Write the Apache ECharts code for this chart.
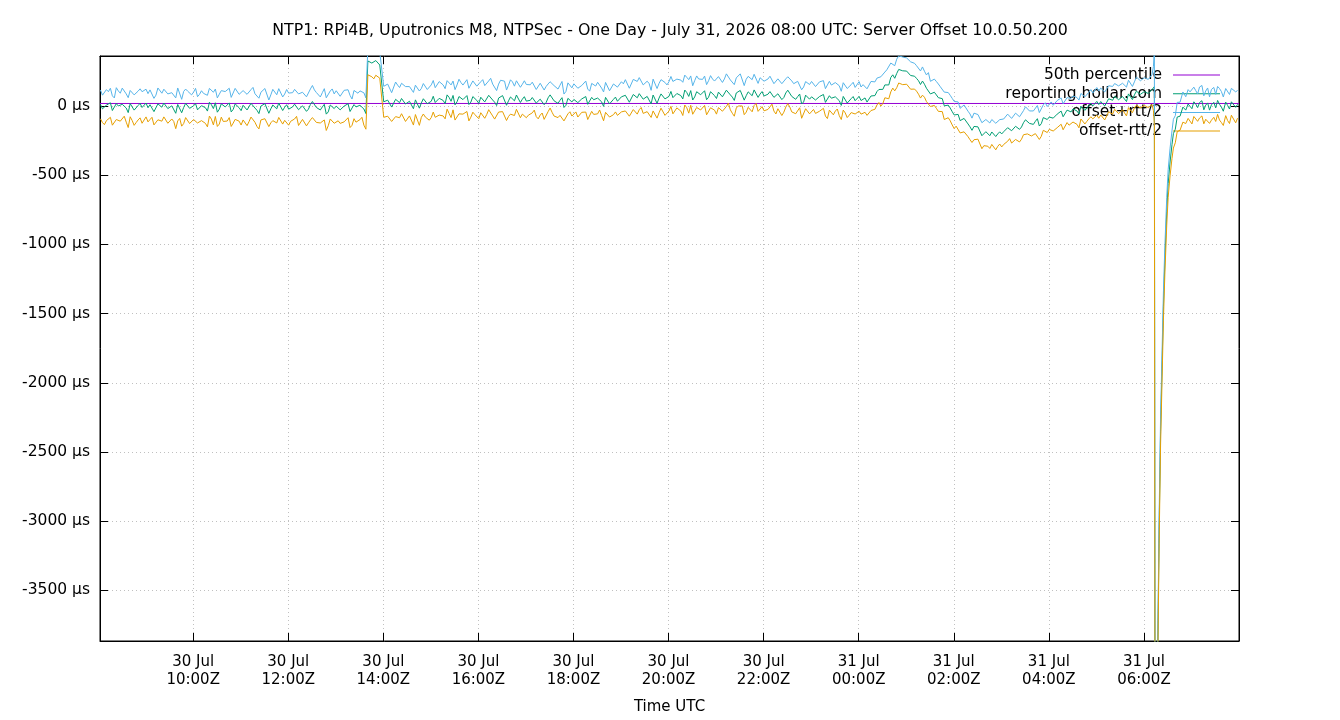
<!DOCTYPE html>
<html>
<head>
<meta charset="utf-8">
<title>NTP1 Server Offset</title>
<script src="https://cdn.jsdelivr.net/npm/echarts@6.0.0/dist/echarts.min.js"></script>
<style>
  html, body { margin: 0; padding: 0; background: #fff; }
  #chart { width: 1340px; height: 720px; }
</style>
</head>
<body>
<div id="chart"></div>
<script>
// hours counted from 30 Jul 00:00 UTC, so 24 = 31 Jul 00:00
const startHour = 8.05; // 08:03Z, first sample
const stepHours = 5 / 60; // one sample every 5 min, plus one in between
const xMin = 8.04;
const xMax = 32;
const yMin = -3866;
const yMax = 361;
const xTicks = [10, 12, 14, 16, 18, 20, 22, 24, 26, 28, 30];
const yTicks = [-3500, -3000, -2500, -2000, -1500, -1000, -500, 0];
const percentile50 = 18; // µs

// offset in µs at 08:03Z, 08:08Z ... 06:08Z
const offsetDay = [
  11, -25, 5, -33, 17, -9, 22, -48, 7, -21, 19, -15, // 08
  -13, 15, -31, 3, 21, -19, 1, -53, 13, -11, 9, -27, // 09
  17, -17, -5, -37, 9, 23, -23, 5, -9, -43, 15, -13, // 10
  5, -29, 19, -15, -55, 7, 15, -21, -1, 21, -33, 9, // 11
  -11, 13, -27, 1, -39, 11, 19, -13, -7, -59, 7, -19, // 12
  4, -32, -2, -40, 10, -16, 15, -55, 322, 300, 316, 292, // 13
  20, 48, 2, 36, 54, 14, 34, -20, 46, 22, 42, 6, // 14
  70, 36, 48, 16, 62, 76, 30, 58, 44, 10, 68, 40, // 15
  63, 29, 77, 43, 3, 65, 73, 37, 57, 79, 25, 67, // 16
  37, 61, 21, 49, 9, 59, 67, 35, 41, -11, 55, 29, // 17
  56, 20, 50, 12, 62, 36, 67, -3, 52, 24, 64, 30, // 18
  55, 83, 37, 71, 89, 49, 69, 15, 81, 57, 77, 41, // 19
  105, 71, 83, 51, 97, 111, 65, 93, 79, 45, 103, 75, // 20
  100, 66, 114, 80, 40, 102, 110, 74, 94, 116, 62, 104, // 21
  82, 104, 62, 88, 46, 94, 100, 65, 68, 14, 78, 49, // 22
  76, 38, 66, 26, 74, 46, 75, 4, 58, 29, 68, 33, // 23
  39, 58, 38, 72, 104, 105, 152, 152, 225, 235, 269, 241, // 00
  257, 217, 199, 155, 157, 141, 88, 80, 46, 1, 6, -41, // 01
  -52, -106, -90, -130, -176, -151, -159, -201, -197, -188, -221, -187, // 02
  -186, -157, -179, -147, -169, -121, -106, -124, -111, -145, -84, -98, // 03
  -67, -88, -56, -78, -30, -43, -10, -58, -6, -20, 20, 0, // 04
  10, 40, 12, 47, 69, 45, 68, 32, 92, 80, 102, 79, // 05
  110, 98, // 06
];

// offset in µs halfway between those samples (08:05:30Z ... 06:05:30Z)
const offsetMid = [
  -21, 6, 23, -38, 0, 12, -15, 17, -30, 3, -11, 21, // 08
  9, -41, 15, -9, 25, -23, -6, 11, -49, 19, -17, 1, // 09
  -28, 2, -13, 27, -19, -45, 15, -7, 22, -25, 5, -34, // 10
  13, -15, 29, -31, -1, 17, -53, 7, -21, 24, -9, -23, // 11
  -7, 21, -33, 5, -23, 32, -11, -29, 12, -43, 16, -1, // 12
  -28, -1, 16, -45, -7, 5, -22, 325, 310, 328, 296, 30, // 13
  42, -8, 48, 24, 58, 10, 27, 44, -16, 52, 16, 34, // 14
  25, 55, 40, 80, 34, 8, 68, 46, 75, 28, 58, 19, // 15
  71, 43, 87, 27, 57, 75, 5, 65, 37, 82, 49, 35, // 16
  41, 69, 15, 53, 25, 80, 37, 19, 60, 5, 64, 47, // 17
  24, 51, 68, 7, 45, 57, 30, 62, 15, 48, 34, 66, // 18
  77, 27, 83, 59, 93, 45, 62, 79, 19, 87, 51, 69, // 19
  60, 90, 75, 115, 69, 43, 103, 81, 110, 63, 93, 54, // 20
  108, 80, 124, 64, 94, 112, 42, 102, 74, 119, 86, 72, // 21
  85, 111, 55, 91, 61, 114, 69, 48, 86, 29, 86, 66, // 22
  43, 68, 83, 20, 56, 66, 38, 69, 21, 53, 38, 69, // 23
  53, 28, 72, 75, 119, 120, 164, 206, 200, 264, 254, 252, // 00
  220, 215, 182, 180, 128, 87, 99, 60, 53, -3, -15, -65, // 01
  -61, -105, -91, -151, -148, -151, -215, -186, -215, -184, -202, -202, // 02
  -178, -146, -179, -139, -152, -100, -126, -133, -92, -128, -73, -80, // 03
  -88, -59, -37, -78, -40, -22, -36, -2, -32, 3, 0, 33, // 04
  32, 0, 52, 41, 76, 46, 67, 87, 46, 107, 84, 104, // 05
  90, // 06
];

// rtt/2 in µs, same samples as offsetDay
const halfRttDay = [
  104, 110, 98, 106, 115, 101, 96, 108, 112, 99, 105, 118, // 08
  102, 97, 109, 113, 100, 106, 95, 111, 103, 116, 98, 107, // 09
  110, 101, 96, 114, 104, 99, 108, 117, 100, 105, 112, 97, // 10
  106, 113, 99, 103, 111, 96, 108, 101, 115, 104, 98, 110, // 11
  100, 107, 114, 98, 105, 112, 97, 109, 103, 118, 101, 106, // 12
  111, 99, 104, 116, 102, 108, 97, 113, 96, 104, 100, 93, // 13
  108, 120, 104, 115, 110, 126, 106, 118, 112, 104, 122, 109, // 14
  114, 106, 120, 109, 116, 104, 122, 111, 107, 118, 113, 103, // 15
  112, 118, 104, 115, 108, 121, 106, 113, 117, 103, 110, 115, // 16
  104, 111, 98, 115, 106, 100, 113, 104, 109, 97, 112, 102, // 17
  99, 106, 95, 110, 101, 108, 96, 104, 112, 100, 107, 98, // 18
  105, 112, 100, 108, 116, 103, 110, 98, 114, 106, 101, 111, // 19
  108, 115, 104, 120, 110, 106, 118, 102, 113, 109, 116, 105, // 20
  112, 104, 118, 108, 114, 102, 110, 119, 106, 113, 101, 109, // 21
  104, 111, 99, 108, 115, 102, 107, 96, 110, 103, 98, 106, // 22
  101, 95, 107, 99, 104, 110, 97, 102, 108, 96, 103, 100, // 23
  98, 104, 95, 101, 97, 106, 93, 100, 96, 103, 92, 99, // 00
  95, 101, 92, 98, 94, 100, 90, 97, 93, 99, 91, 96, // 01
  94, 89, 97, 92, 88, 95, 91, 86, 94, 90, 96, 88, // 02
  92, 98, 89, 95, 91, 87, 96, 93, 89, 97, 92, 94, // 03
  96, 91, 99, 94, 90, 97, 93, 100, 95, 91, 98, 94, // 04
  99, 95, 102, 97, 93, 100, 96, 104, 98, 94, 101, 97, // 05
  100, 104, // 06
];

// rtt/2 in µs, same samples as offsetMid
const halfRttMid = [
  99, 112, 105, 96, 109, 117, 102, 95, 110, 104, 114, 100, // 08
  107, 96, 115, 101, 98, 112, 106, 119, 97, 103, 110, 99, // 09
  95, 108, 113, 100, 118, 103, 96, 111, 106, 99, 115, 104, // 10
  112, 98, 105, 117, 100, 109, 96, 113, 102, 108, 95, 116, // 11
  103, 96, 110, 105, 99, 116, 108, 94, 113, 100, 107, 111, // 12
  98, 114, 101, 95, 110, 104, 117, 100, 99, 106, 95, 112, // 13
  116, 104, 125, 109, 100, 119, 113, 106, 124, 110, 103, 118, // 14
  107, 121, 112, 103, 118, 110, 125, 105, 115, 109, 120, 111, // 15
  119, 105, 113, 122, 101, 116, 110, 124, 106, 114, 108, 120, // 16
  112, 99, 108, 104, 116, 95, 110, 103, 117, 100, 106, 113, // 17
  104, 97, 112, 100, 106, 114, 99, 108, 95, 111, 102, 109, // 18
  113, 101, 109, 118, 104, 112, 100, 115, 107, 103, 119, 106, // 19
  117, 104, 112, 108, 121, 103, 114, 110, 106, 119, 102, 113, // 20
  106, 115, 103, 117, 109, 120, 105, 112, 116, 101, 118, 107, // 21
  110, 98, 113, 103, 106, 97, 112, 104, 99, 108, 101, 111, // 22
  97, 106, 100, 111, 95, 103, 108, 99, 105, 101, 96, 107, // 23
  101, 96, 105, 99, 94, 102, 97, 104, 91, 98, 100, 95, // 00
  99, 93, 97, 102, 96, 91, 95, 99, 94, 97, 92, 98, // 01
  90, 95, 87, 93, 96, 89, 94, 88, 92, 97, 90, 94, // 02
  96, 90, 93, 99, 88, 94, 90, 97, 95, 91, 96, 89, // 03
  93, 98, 95, 91, 99, 94, 97, 92, 98, 96, 93, 100, // 04
  97, 101, 94, 100, 98, 96, 103, 99, 95, 102, 98, 100, // 05
  102, // 06
];

// the step at 06:14Z and the recovery after it, uneven spacing
const tailHours = [
  30.17, 30.20, 30.22, 30.235, 30.26, 30.29, 30.32, 30.35, 30.38, 30.41,
  30.44, 30.48, 30.51, 30.55, 30.59, 30.62, 30.66, 30.70, 30.76, 30.82,
  30.88, 30.93, 30.97, 31.01, 31.05, 31.09, 31.13, 31.17, 31.22, 31.26,
  31.30, 31.34, 31.38, 31.42, 31.47, 31.51, 31.55, 31.59, 31.63, 31.67,
  31.72, 31.76, 31.80, 31.84, 31.88, 31.93, 31.97,
];
const tailOffset = [
  118, 126, 140, -5200, -5600, -3975, -3060, -2350, -1900, -1450,
  -1120, -760, -560, -405, -280, -200, -168, -80, -74, -8,
  -30, 14, 2, -20, 30, 14, -12, 25, 38, -28,
  6, 22, -30, 8, 26, -14, 40, 12, -8, -38,
  28, 4, -22, 30, 34, -10, 12,
];
const tailHalfRtt = [
  108, 160, 270, 100, 100, 100, 100, 100, 100, 100,
  100, 100, 100, 100, 100, 104, 98, 106, 101, 109,
  97, 104, 100, 110, 106, 97, 99, 112, 110, 101,
  102, 108, 96, 111, 108, 98, 101, 114, 112, 103,
  98, 109, 105, 97, 103, 112, 100,
];

const seriesNames = ['50th percentile', 'reporting hollar.com', 'offset+rtt/2', 'offset-rtt/2'];
const seriesColors = ['#9400d3', '#009e73', '#56b4e9', '#e69f00'];

const kFont = 'DejaVu Sans, sans-serif';
let chart;

window.onload = function () {
  chart = echarts.init(document.getElementById('chart'));
  render();
};

// 30 Jul / 31 Jul + hh:00Z
function hourLabel(h) {
  const day = h < 24 ? '30 Jul' : '31 Jul';
  const hh = String(Math.round(h % 24)).padStart(2, '0');
  return `${day}\n${hh}:00Z`;
}

function render() {
  // 构造数据: 5 min samples with the in-between ones, then the tail
  const hours = [];
  const offset = [];
  const halfRtt = [];
  offsetDay.forEach((v, i) => {
    const t = startHour + i * stepHours;
    hours.push(t);
    offset.push(v);
    halfRtt.push(halfRttDay[i]);
    if (i < offsetMid.length) {
      hours.push(t + stepHours / 2);
      offset.push(offsetMid[i]);
      halfRtt.push(halfRttMid[i]);
    }
  });
  tailHours.forEach((t, i) => {
    hours.push(t);
    offset.push(tailOffset[i]);
    halfRtt.push(tailHalfRtt[i]);
  });

  const offsetData = hours.map((h, i) => [h, offset[i]]);
  const plusData = hours.map((h, i) => [h, offset[i] + halfRtt[i]]);
  const minusData = hours.map((h, i) => [h, offset[i] - halfRtt[i]]);
  const pctData = [[xMin, percentile50], [xMax, percentile50]];

  const tick = values => ({
    show: true,
    inside: true,
    length: 8,
    customValues: values,
    lineStyle: { color: '#000' },
  });

  const lineSeries = (i, data) => ({
    name: seriesNames[i],
    type: 'line',
    data,
    symbol: 'none',
    clip: true,
    z: 2,
    lineStyle: { width: 1, color: seriesColors[i] },
    itemStyle: { color: seriesColors[i] },
  });

  const option = {
    animation: false,
    backgroundColor: '#fff',
    textStyle: { fontFamily: kFont },
    title: {
      text: 'NTP1: RPi4B, Uputronics M8, NTPSec - One Day - July 31, 2026 08:00 UTC: Server Offset 10.0.50.200',
      left: 'center',
      top: 18,
      textStyle: { fontFamily: kFont, fontSize: 15.8, fontWeight: 'normal', color: '#000' },
    },
    legend: {
      orient: 'vertical',
      align: 'right',
      right: 115,
      top: 62,
      z: 1,
      icon: 'rect',
      itemWidth: 47,
      itemHeight: 1,
      itemGap: 2.7,
      selectedMode: false,
      textStyle: { fontFamily: kFont, fontSize: 15.5, color: '#000', lineHeight: 16, padding: [0, 6, 0, 0] },
      data: seriesNames,
    },
    grid: {
      left: 100,
      right: 101,
      top: 56,
      bottom: 79,
      show: true,
      borderColor: '#000',
      borderWidth: 1,
    },
    xAxis: [{
      type: 'value',
      min: xMin,
      max: xMax,
      name: 'Time UTC',
      nameLocation: 'middle',
      nameGap: 59,
      nameTextStyle: { fontFamily: kFont, fontSize: 15, color: '#000' },
      axisLine: { onZero: false, lineStyle: { color: '#000' } },
      axisTick: tick(xTicks),
      axisLabel: {
        customValues: xTicks,
        formatter: hourLabel,
        fontFamily: kFont,
        fontSize: 15,
        lineHeight: 18,
        color: '#000',
        margin: 12,
      },
      splitLine: { show: true, lineStyle: { color: '#c0c0c0', type: [1, 3] } },
    }, {
      type: 'value',
      position: 'top',
      min: xMin,
      max: xMax,
      axisLine: { onZero: false, lineStyle: { color: '#000' } },
      axisTick: tick(xTicks),
      axisLabel: { show: false },
      splitLine: { show: false },
    }],
    yAxis: [{
      type: 'value',
      min: yMin,
      max: yMax,
      axisLine: { show: true, onZero: false, lineStyle: { color: '#000' } },
      axisTick: tick(yTicks),
      axisLabel: {
        customValues: yTicks,
        formatter: v => `${v} µs`,
        fontFamily: kFont,
        fontSize: 15.5,
        color: '#000',
        margin: 10,
      },
      splitLine: { show: true, lineStyle: { color: '#c0c0c0', type: [1, 3] } },
    }, {
      type: 'value',
      position: 'right',
      min: yMin,
      max: yMax,
      axisLine: { show: true, onZero: false, lineStyle: { color: '#000' } },
      axisTick: tick(yTicks),
      axisLabel: { show: false },
      splitLine: { show: false },
    }],
    series: [
      lineSeries(0, pctData),
      lineSeries(1, offsetData),
      lineSeries(2, plusData),
      lineSeries(3, minusData),
    ],
  };

  chart.setOption(option);
}
</script>
</body>
</html>
